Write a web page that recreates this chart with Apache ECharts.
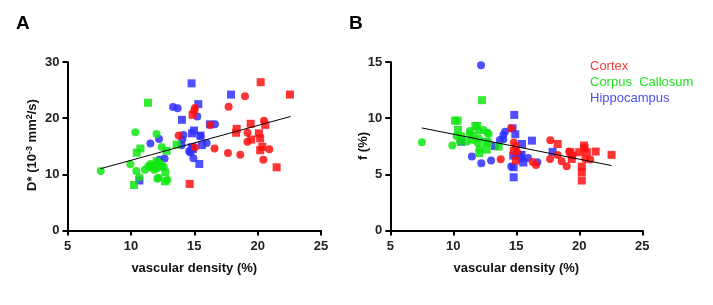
<!DOCTYPE html>
<html>
<head>
<meta charset="utf-8">
<script src="https://cdn.jsdelivr.net/npm/echarts@6/dist/echarts.min.js"></script>
<style>
  html, body { margin: 0; padding: 0; background: #fff; }
  #main { width: 713px; height: 305px; }
</style>
</head>
<body>
<div id="main"></div>
<script>
// panel A: D* vs vascular density
var cortexCircA = [[13.77,16.9],[15.05,14.8],[15.05,21.8],[15.0,21.3],[16.27,18.8],[16.6,14.6],[17.71,22.05],[17.66,13.8],
    [19.0,23.9],[18.63,13.5],[19.2,17.4],[19.2,15.8],[20.5,19.55],[20.45,12.6],[20.92,14.45]];
var cortexSqA = [[14.64,8.3],[14.87,20.6],[20.24,26.4],[22.55,24.2],[21.5,11.25],[20.6,18.8],[19.45,19.0],[18.35,18.1],
    [18.3,17.4],[20.1,17.3],[20.2,16.4],[20.37,14.9],[20.2,14.3],[19.5,16.2]];
var hipCircA = [[13.32,22.0],[13.69,21.75],[15.24,20.3],[16.63,18.9],[15.48,16.8],[14.14,17.0],[14.06,16.2],[14.0,15.2],
    [15.98,15.6],[14.6,14.1],[14.7,13.9],[14.93,12.85],[12.66,12.8],[12.24,12.6],[12.22,16.3],[11.54,15.5]];
var hipSqA = [[14.79,26.2],[17.9,24.2],[15.32,22.5],[14.03,19.7],[16.24,18.9],[14.98,17.8],[14.82,17.3],[15.5,16.9],
    [15.6,15.2],[14.8,14.8],[14.9,14.5],[15.4,11.85],[10.67,8.9]];
var ccCircA = [[7.62,10.6],[10.35,17.5],[12.03,17.2],[12.43,14.87],[9.96,11.8],[10.43,10.6],[10.67,9.5],[11.11,10.8],
    [11.38,11.5],[11.56,11.85],[11.85,11.65],[12.03,11.05],[12.3,11.95],[12.6,11.25],[12.17,9.4],[12.09,9.2],
    [12.88,9.0],[11.5,11.25],[11.85,10.8]];
var ccSqA = [[11.35,22.75],[10.75,14.6],[10.46,13.85],[12.82,14.2],[13.61,15.3],[10.25,8.1],[11.72,11.25],[12.03,12.3],
    [12.43,11.35],[12.72,10.35],[12.69,8.75]];
var trendA = [[7.6,11.0],[22.6,20.3]];

// panel B: f vs vascular density
var cortexCircB = [[13.76,6.34],[14.58,9.1],[14.81,7.83],[14.97,7.53],[15.05,7.0],[16.3,6.1],[16.56,5.84],[17.7,8.03],
    [17.68,6.37],[18.28,6.73],[18.6,6.17],[19.0,5.72],[19.2,7.03],[20.48,6.37],[20.87,6.31]];
var cortexSqB = [[14.81,7.1],[14.97,6.23],[18.28,7.7],[19.3,6.97],[19.44,6.67],[19.4,6.37],[20.0,6.97],[20.37,7.56],
    [20.42,7.32],[20.6,6.97],[21.3,7.03],[22.56,6.73],[20.2,5.69],[20.2,5.19],[20.2,4.45]];
var hipCircB = [[12.2,14.7],[11.48,6.58],[12.22,5.99],[13.0,6.23],[13.7,8.06],[13.97,8.12],[13.97,8.5],[14.1,8.8],
    [15.35,6.4],[15.93,6.46],[16.67,6.08],[14.6,5.7]];
var hipSqB = [[10.63,7.9],[13.3,7.53],[14.7,9.1],[14.84,10.29],[14.92,8.57],[15.45,7.7],[16.24,8.0],[17.88,7.0],
    [14.76,6.67],[15.03,6.67],[15.26,6.7],[15.42,6.73],[15.56,6.05],[14.79,5.63],[14.79,4.74]];
var ccCircB = [[7.51,7.86],[9.92,7.56],[10.26,8.42],[10.66,8.42],[10.53,7.9],[11.06,7.9],[11.32,8.86],[11.32,8.6],
    [11.59,8.42],[11.53,8.06],[12.0,8.9],[12.03,8.18],[11.96,7.77],[12.09,7.26],[12.4,8.95],[12.72,8.7],[12.8,8.6]];
var ccSqB = [[10.13,9.78],[10.34,9.78],[10.37,8.95],[11.75,9.3],[11.9,9.3],[12.06,6.9],[12.28,11.6],[12.6,7.9],
    [12.75,7.83],[12.65,7.2],[13.6,7.47]];
var trendB = [[7.5,9.13],[22.56,5.78]];

var xTicks = [5, 10, 15, 20, 25];
var red = '#ff1010', green = '#10e610', blue = '#3030ff';

var chart = echarts.init(document.getElementById('main'));
var font = 'Liberation Sans, Arial, sans-serif';

function xAxisOf(idx) {
    return {
        type: 'value', gridIndex: idx, min: xTicks[0], max: xTicks[xTicks.length - 1], interval: 5,
        name: 'vascular density (%)', nameLocation: 'middle', nameGap: 31,
        nameTextStyle: { fontFamily: font, fontWeight: 'bold', fontSize: 13, color: '#111' },
        axisLine: { lineStyle: { color: '#000', width: 2 } },
        axisTick: { length: 5, lineStyle: { color: '#000', width: 2 } },
        axisLabel: { fontFamily: font, fontWeight: 'bold', fontSize: 13, color: '#222', margin: 9 },
        splitLine: { show: false }
    };
}

function yAxisOf(idx, max, step) {
    return {
        type: 'value', gridIndex: idx, min: 0, max: max, interval: step,
        axisLine: { show: true, lineStyle: { color: '#000', width: 2 } },
        axisTick: { show: true, length: 5, lineStyle: { color: '#000', width: 2 } },
        axisLabel: { fontFamily: font, fontWeight: 'bold', fontSize: 13, color: '#222', margin: 8 },
        splitLine: { show: false }
    };
}

// rotated y-axis titles (placed by hand so they sit close to the tick labels)
function yTitle(text, x, y) {
    return {
        type: 'text', x: x, y: y, rotation: Math.PI / 2,
        style: {
            text: text, align: 'center', verticalAlign: 'middle',
            fontFamily: font, fontWeight: 'bold', fontSize: 13, fill: '#111',
            rich: {
                n: { fontFamily: font, fontWeight: 'bold', fontSize: 13, fill: '#111' },
                s: { fontFamily: font, fontWeight: 'bold', fontSize: 9, fill: '#111', verticalAlign: 'top', lineHeight: 10, padding: [0, 0, 6, 0] }
            }
        }
    };
}

function dots(name, data, shape, color, idx) {
    return {
        name: name, type: 'scatter', xAxisIndex: idx, yAxisIndex: idx, data: data,
        symbol: shape, symbolSize: 8,
        itemStyle: { color: color, opacity: 0.85 }, z: 3
    };
}

function trend(data, idx) {
    return {
        type: 'line', xAxisIndex: idx, yAxisIndex: idx, data: data, symbol: 'none',
        lineStyle: { color: '#000', width: 1 }, z: 4, silent: true
    };
}

var option = {
    animation: false,
    title: [
        { text: 'A', left: 11, top: 9, textStyle: { fontFamily: font, fontWeight: 'bold', fontSize: 19, color: '#000' } },
        { text: 'B', left: 344, top: 9, textStyle: { fontFamily: font, fontWeight: 'bold', fontSize: 19, color: '#000' } }
    ],
    graphic: [
        yTitle('{n|D* (10}{s|-3}{n| mm}{s|2}{n|/s)}', 32, 145),
        yTitle('f (%)', 363, 146)
    ],
    legend: {
        orient: 'vertical', left: 580, top: 54, icon: 'none', itemWidth: 0, itemHeight: 14, itemGap: 2.5,
        textStyle: { fontFamily: font, fontSize: 13 },
        data: [
            { name: 'Cortex', textStyle: { color: '#f03c3c' } },
            { name: 'Corpus  Callosum', textStyle: { color: '#22e022' } },
            { name: 'Hippocampus', textStyle: { color: '#4c4cf0' } }
        ]
    },
    grid: [
        { left: 67.5, top: 62, width: 253.5, height: 168.5 },
        { left: 390.3, top: 62, width: 252, height: 168.5 }
    ],
    xAxis: [xAxisOf(0), xAxisOf(1)],
    yAxis: [yAxisOf(0, 30, 10), yAxisOf(1, 15, 5)],
    series: [
        dots('Hippocampus', hipCircA, 'circle', blue, 0),
        dots('Hippocampus', hipSqA, 'rect', blue, 0),
        dots('Corpus  Callosum', ccCircA, 'circle', green, 0),
        dots('Corpus  Callosum', ccSqA, 'rect', green, 0),
        dots('Cortex', cortexCircA, 'circle', red, 0),
        dots('Cortex', cortexSqA, 'rect', red, 0),
        trend(trendA, 0),
        dots('Hippocampus', hipCircB, 'circle', blue, 1),
        dots('Hippocampus', hipSqB, 'rect', blue, 1),
        dots('Corpus  Callosum', ccCircB, 'circle', green, 1),
        dots('Corpus  Callosum', ccSqB, 'rect', green, 1),
        dots('Cortex', cortexCircB, 'circle', red, 1),
        dots('Cortex', cortexSqB, 'rect', red, 1),
        trend(trendB, 1)
    ]
};

chart.setOption(option);
window.addEventListener('resize', function () {
    chart.resize();
});
</script>
</body>
</html>
